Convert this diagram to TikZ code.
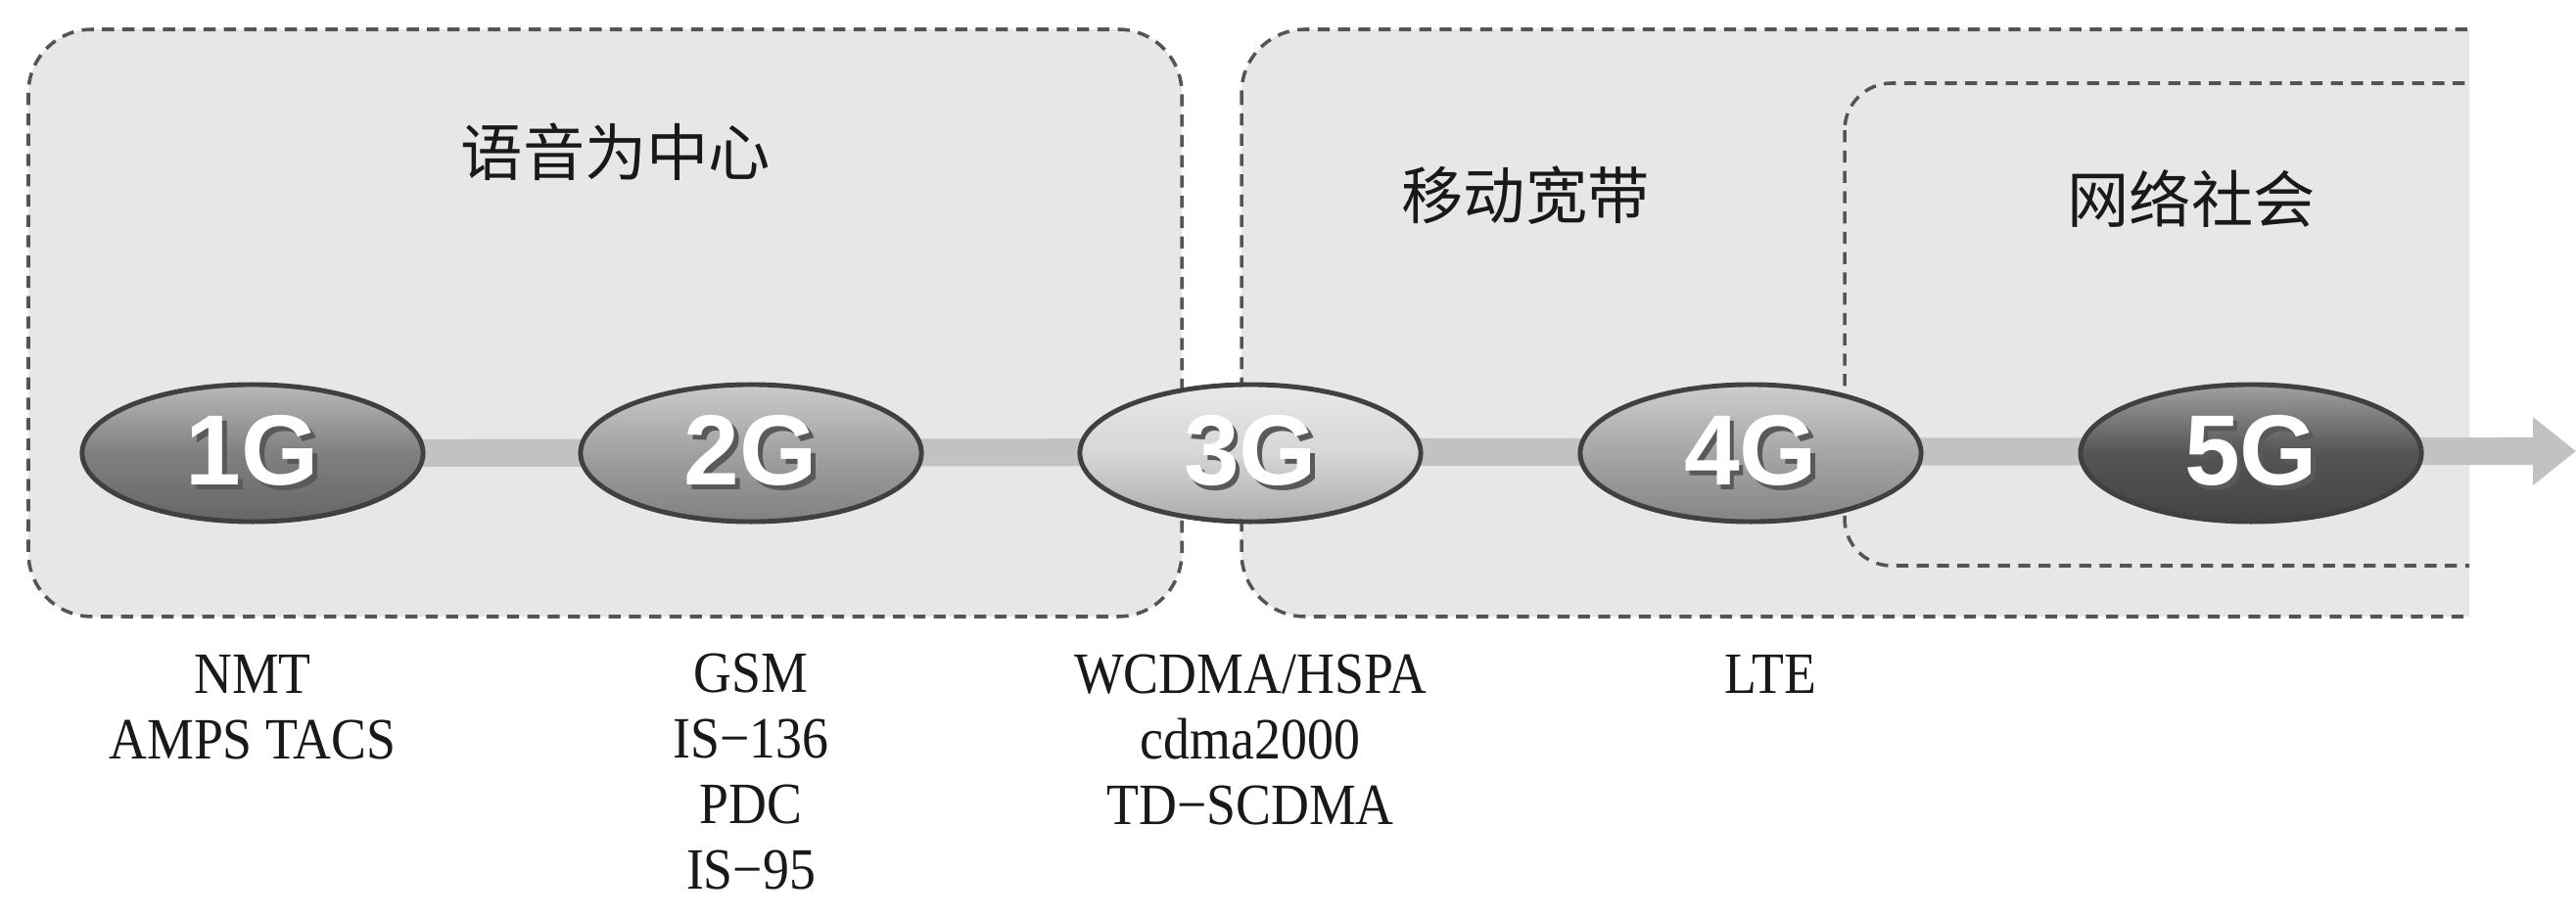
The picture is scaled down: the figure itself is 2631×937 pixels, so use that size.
\documentclass[tikz,border=0pt]{standalone}
\usepackage{fontspec}
\setmainfont{Liberation Serif}
\newfontfamily\cjk{Noto Sans CJK SC}
\newfontfamily\labfont[FakeStretch=0.9]{Liberation Serif}
\newfontfamily\gfont{Liberation Sans}
\usetikzlibrary{shapes.geometric,arrows.meta}
\definecolor{boxfill}{gray}{0.905}
\definecolor{boxline}{gray}{0.33}
\definecolor{barc}{gray}{0.76}
\definecolor{ellline}{gray}{0.25}
\definecolor{gshadow}{gray}{0.35}
\definecolor{gA}{gray}{0.50}
\definecolor{gB}{gray}{0.63}
\definecolor{gC}{gray}{0.84}
\definecolor{gD}{gray}{0.65}
\definecolor{gE}{gray}{0.33}
\newcommand\gtxt[1]{\rlap{\kern1.3pt\raisebox{-1.3pt}{\color{gshadow}#1}}#1}
\pgfdeclarelayer{zones}
\pgfdeclarelayer{barlayer}
\pgfsetlayers{zones,barlayer,main}
\tikzset{
  zone/.style={draw=boxline, line width=1pt, dash pattern=on 3.5pt off 2.4pt},
  zonefill/.style={fill=boxfill},
  gen/.style={ellipse, draw=ellline, line width=1.4pt, minimum width=3.48cm,
    minimum height=1.4cm, inner sep=0pt, text=white,
    font=\gfont\bfseries\fontsize{29}{29}\selectfont,
    top color=#1!55!white, bottom color=#1!80!black, middle color=#1},
  zonetitle/.style={font=\cjk\fontsize{18}{18}\selectfont, text=black!90, inner sep=0pt},
  techlabel/.style={font=\labfont\fontsize{17}{19}\selectfont, text=black!90,
    align=center, anchor=base, inner sep=0pt},
  bar/.style={line width=8pt, draw=barc, -{Triangle[length=12.5pt,width=19pt]}}
}
\begin{document}
\begin{tikzpicture}[x=0.01cm, y=-0.01cm]
\useasboundingbox (0,0) rectangle (2631,937);

% zones
\begin{pgfonlayer}{zones}
  \fill[white] (0,0) rectangle (2631,937);
  \fill[zonefill, rounded corners=0.65cm] (29,30) rectangle (1207,630);
  \begin{scope}
    \clip (0,0) rectangle (2522,937);
    \fill[zonefill, rounded corners=0.65cm] (1268,30) rectangle (2800,630);
    \fill[zonefill, rounded corners=0.48cm] (1884,85) rectangle (2800,578);
    \draw[zone, rounded corners=0.65cm] (1268,30) rectangle (2800,630);
    \draw[zone, rounded corners=0.48cm] (1884,85) rectangle (2800,578);
  \end{scope}
  \draw[zone, rounded corners=0.65cm] (29,30) rectangle (1207,630);
\end{pgfonlayer}

% zone titles
\node[zonetitle] (t1) at (629,155) {语音为中心};
\node[zonetitle] (t2) at (1558,200) {移动宽带};
\node[zonetitle] (t3) at (2238,203) {网络社会};

% generations
\node[gen=gA] (g1) at (258,463) {\gtxt{1G}};
\node[gen=gB] (g2) at (767,463) {\gtxt{2G}};
\node[gen=gC] (g3) at (1277,463) {\gtxt{3G}};
\node[gen=gD] (g4) at (1788,463) {\gtxt{4G}};
\node[gen=gE] (g5) at (2299,463) {\gtxt{5G}};
\coordinate (tip) at (2631,461);

\begin{pgfonlayer}{barlayer}
  \draw[bar] (g1.center) -- (tip);
\end{pgfonlayer}

% technologies (base anchor = baseline of last line; line pitch 66.8)
\node[techlabel] (l1) at (258,775) {NMT\\AMPS TACS};
\node[techlabel] (l2) at (767,908) {GSM\\IS−136\\PDC\\IS−95};
\node[techlabel] (l3) at (1277,842) {WCDMA/HSPA\\cdma2000\\TD−SCDMA};
\node[techlabel] (l4) at (1808,708) {LTE};
\end{tikzpicture}
\end{document}
